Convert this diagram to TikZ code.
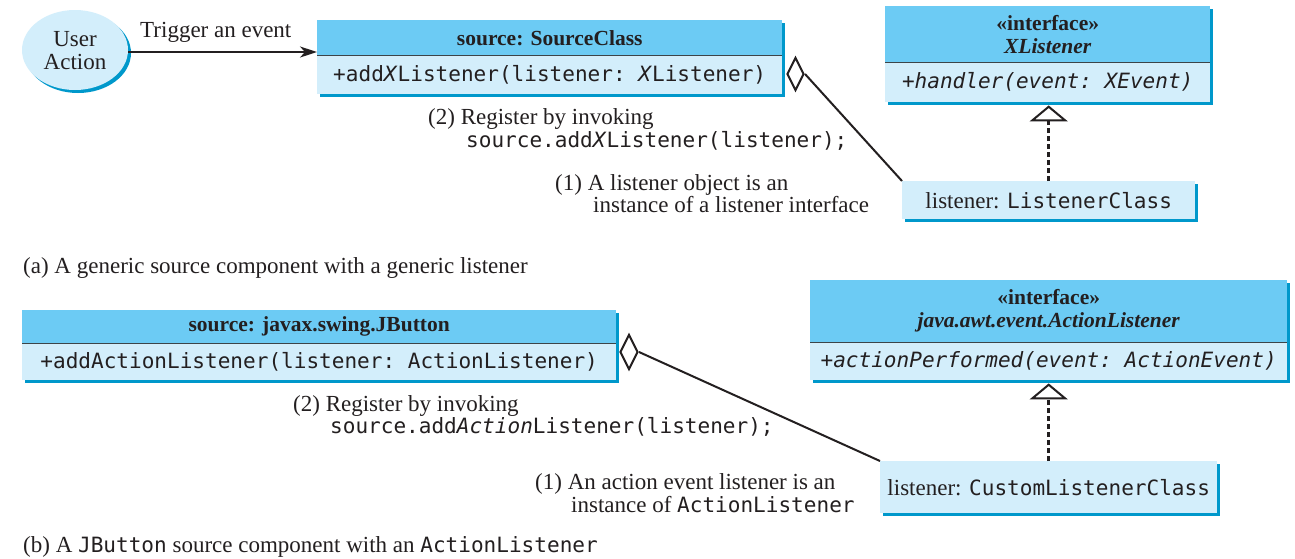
\documentclass[tikz,border=0pt]{standalone}
\usepackage{fontspec}
\setmainfont{Liberation Serif}
\setmonofont[Scale=0.915]{DejaVu Sans Mono}
\usetikzlibrary{shapes.geometric,arrows.meta,shadows}
\definecolor{hdr}{HTML}{6CCBF4}
\definecolor{bdy}{HTML}{D3EEFB}
\definecolor{shd}{HTML}{0098CB}
\definecolor{txt}{HTML}{231F20}
\definecolor{sepc}{HTML}{3C4448}
\begin{document}
\begin{tikzpicture}[x=1pt,y=-1pt,
  every node/.style={text=txt, font=\fontsize{23}{23}\selectfont, inner sep=0pt},
  shdw/.style={drop shadow={shadow xshift=3pt,shadow yshift=-3pt,fill=shd,opacity=1}},
  hbox/.style={shape=rectangle, fill=hdr, anchor=north west, shdw, align=center,
    font=\bfseries\fontsize{21.5}{23}\selectfont},
  bbox/.style={shape=rectangle, fill=bdy, anchor=north west, shdw, font=\ttfamily\fontsize{23}{23}\selectfont},
  lbox/.style={shape=rectangle, fill=bdy, anchor=north west, shdw},
  sepline/.style={draw=sepc, line width=1.5pt},
  lbl/.style={anchor=base west},
  conn/.style={draw=txt, line width=2pt},
  agg/.style={shape=diamond, draw=txt, line width=2pt, fill=white, anchor=west},
  real/.style={draw=txt, line width=3pt, dash pattern=on 5pt off 3pt,
    -{Triangle[open, length=16pt, width=38pt, line width=2pt]}}]
\fill[white] (0,0) rectangle (1295,558);
\useasboundingbox (0,0) rectangle (1295,558);

% ---------- (a) ----------
\node[ellipse, fill=bdy, minimum width=106, minimum height=80, shdw, align=center] (ua) at (75,50) {\rule{0pt}{17pt}User\\Action};

\node[hbox, minimum width=465, minimum height=35] (srcH) at (317,20) {source: SourceClass};
\node[bbox, minimum width=465, minimum height=39] (srcB) at (317,55) {+add\textit{X}Listener(listener: \textit{X}Listener)};
\draw[sepline] (srcH.south west) -- (srcH.south east);

\node[hbox, minimum width=325, minimum height=56] (ifH) at (885,6) {«interface»\\\textit{XListener}};
\node[bbox, minimum width=325, minimum height=40] (ifB) at (885,62) {\itshape +handler(event: XEvent)};
\draw[sepline] (ifH.south west) -- (ifH.south east);

\node[lbox, minimum width=293, minimum height=38] (lisA) at (902,181) {listener: \texttt{ListenerClass}};

\node[agg, minimum width=17, minimum height=33] (dA) at (786,74) {};

\draw[conn, -{Stealth[length=17pt,width=11pt,inset=5pt]}] ([yshift=-2pt]ua.east) -- ([yshift=-2pt]ua.east -| srcH.west);
\node[lbl] (trig) at (140,37) {Trigger an event};
\draw[conn] (dA.east) -- (lisA.north west);
\draw[real] (lisA.north) -- ([yshift=-3pt]lisA.north |- ifB.south);

\node[lbl] (regA1) at (428,124) {(2) Register by invoking};
\node[lbl] (regA2) at (466,147) {\texttt{source.add\textit{X}Listener(listener);}};
\node[lbl] (insA1) at (555,190) {(1) A listener object is an};
\node[lbl] (insA2) at (593,212) {instance of a listener interface};
\node[lbl] (capA) at (23,273) {(a) A generic source component with a generic listener};

% ---------- (b) ----------
\node[hbox, minimum width=594, minimum height=33] (jbH) at (22,310) {source: javax.swing.JButton};
\node[bbox, minimum width=594, minimum height=37] (jbB) at (22,343) {+addActionListener(listener: ActionListener)};
\draw[sepline] (jbH.south west) -- (jbH.south east);

\node[hbox, minimum width=477, minimum height=62] (alH) at (810,280) {«interface»\\\textit{java.awt.event.ActionListener}};
\node[bbox, minimum width=477, minimum height=38] (alB) at (810,342) {\itshape +actionPerformed(event: ActionEvent)};
\draw[sepline] (alH.south west) -- (alH.south east);

\node[lbox, minimum width=337, minimum height=52] (lisB) at (880,461) {listener: \texttt{CustomListenerClass}};

\node[agg, minimum width=18, minimum height=35] (dB) at (619,352) {};
\draw[conn] (dB.east) -- (lisB.north west);
\draw[real] (lisB.north) -- ([yshift=-3pt]lisB.north |- alB.south);

\node[lbl] (regB1) at (293,411) {(2) Register by invoking};
\node[lbl] (regB2) at (330,433) {\texttt{source.add\textit{Action}Listener(listener);}};
\node[lbl] (insB1) at (535,489) {(1) An action event listener is an};
\node[lbl] (insB2) at (571,512) {instance of \texttt{ActionListener}};
\node[lbl] (capB) at (23,552) {(b) A \texttt{JButton} source component with an \texttt{ActionListener}};
\end{tikzpicture}
\end{document}
